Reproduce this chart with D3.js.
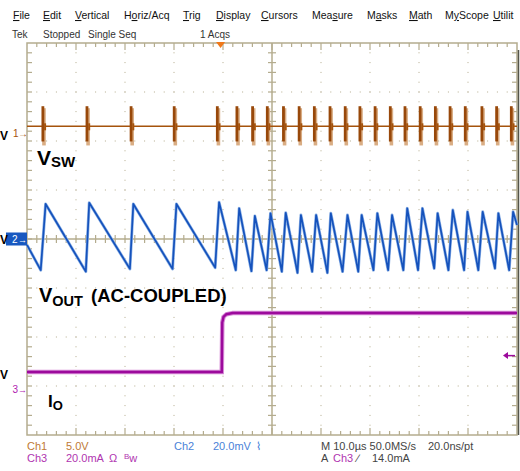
<!DOCTYPE html>
<html>
<head>
<meta charset="utf-8">
<script src="https://cdn.jsdelivr.net/npm/d3@7"></script>
<style>
  body { margin: 0; background: #fff; }
  svg { display: block; font-family: "Liberation Sans", Arial, sans-serif; }
</style>
</head>
<body>
<svg id="scope" width="520" height="471"></svg>
<script>
// Menu bar
const menuItems = ["File", "Edit", "Vertical", "Horiz/Acq", "Trig", "Display", "Cursors", "Measure", "Masks", "Math", "MyScope", "Utilit"];
const menuX = [13, 43, 75, 124, 183, 216, 261, 312, 367, 409, 445, 493];
const menuUnderline = [0, 0, 0, 1, 0, 0, 0, 3, 1, 0, 1, 0];

// Channel settings
const ch1PerDiv = 5, ch1Pos = 2.16;      // V/div, ground marker position (div)
const ch2PerDiv = 20, ch2Pos = 0;        // mV/div
const ch3PerDiv = 20, ch3Pos = -3.08;    // mA/div
const trigLevel = 14.0;                  // mA

// Ch1 (V_SW): switching pulses, us
const ch1SpikeT = [-36.3, -27.3, -18.3, -9.5, -0.7, 3.3, 6.5,
  9.5, 12.8, 16.0, 19.1, 22.3, 25.4, 28.4, 31.5, 34.6, 37.6, 40.7, 43.8, 46.8, 49.9, 53.3, 56.3, 59.3];
const ch1Base = 0.7, ch1High = 2.75, ch1Low = -1.05;   // V

// Ch2 (V_OUT ripple, AC coupled): vertices, us / mV
const ch2T = [-39.5, -36.7, -35.7, -27.5, -26.8, -18.5, -17.8, -9.8, -9.0, -1.1, -0.3, 3.1, 3.8, 6.3, 7.0,
  9.4, 10.2, 12.5, 13.3, 15.7, 16.4, 18.7, 19.5, 21.8, 22.5, 24.9, 25.9, 28.1, 28.8, 31.2, 32.0,
  34.2, 35.0, 37.3, 38.1, 40.3, 41.2, 43.6, 44.3, 46.5, 47.4, 49.7, 50.4, 52.6, 53.5, 56.0, 56.7, 58.9, 59.7, 60.5];
const ch2V = [-2.4, -12.7, 14.3, -13.3, 14.8, -12.2, 14.3, -12.2, 14.3, -11.7, 15.0, -12.7, 12.5, -13.1, 9.4,
  -12.7, 10.5, -13.3, 10.7, -13.8, 9.8, -13.3, 9.8, -13.8, 10.5, -13.3, 9.8, -13.3, 9.8, -12.7, 10.5,
  -12.7, 9.8, -12.7, 12.5, -12.7, 12.5, -12.0, 10.5, -12.7, 11.8, -12.7, 11.1, -12.7, 11.1, -12.0, 10.5, -12.7, 11.1, 5.7];

// Ch3 (I_O load step): vertices, us / mA
const ch3T = [-39.5, 0.25, 0.35, 0.6, 1.2, 2.5, 60.5];
const ch3I = [7.3, 7.3, 27.5, 29.8, 30.9, 31.4, 31.4];

const plotL = 27, plotR = 517, plotT = 43, plotB = 435;
const gridCol = "#b4ac8e";

const svg = d3.select("#scope");

const x = d3.scaleLinear().domain([-39.5, 60.5]).range([plotL, plotR]);
const chScale = (perDiv, pos) => d3.scaleLinear()
  .domain([(-4 - pos) * perDiv, (4 - pos) * perDiv]).range([plotB, plotT]);
const y1 = chScale(ch1PerDiv, ch1Pos);
const y2 = chScale(ch2PerDiv, ch2Pos);
const y3 = chScale(ch3PerDiv, ch3Pos);

// ---- menu + status ----
menuItems.forEach((m, i) => {
  const t = svg.append("text").attr("x", menuX[i]).attr("y", 19)
    .attr("font-size", 10.5).attr("fill", "#111");
  const u = menuUnderline[i];
  if (u > 0) t.append("tspan").text(m.slice(0, u));
  t.append("tspan").attr("text-decoration", "underline").text(m[u]);
  t.append("tspan").text(m.slice(u + 1));
});
[[12, "Tek"], [43, "Stopped"], [88, "Single Seq"], [200, "1 Acqs"]].forEach(s => {
  svg.append("text").attr("x", s[0]).attr("y", 38).attr("font-size", 10).attr("fill", "#333").text(s[1]);
});

// ---- graticule ----
const grid = svg.append("g");
const minor = 49 / 5;
// dotted major lines
for (let i = 1; i < 10; i++) {
  if (i === 5) continue;
  const gx = plotL + i * 49;
  for (let k = 1; k < 40; k++) {
    grid.append("rect").attr("x", gx - 0.5).attr("y", plotT + k * minor - 0.5)
      .attr("width", 1).attr("height", 1).attr("fill", gridCol);
  }
}
for (let j = 1; j < 8; j++) {
  if (j === 4) continue;
  const gy = plotT + j * 49;
  for (let k = 1; k < 50; k++) {
    grid.append("rect").attr("x", plotL + k * minor - 0.5).attr("y", gy - 0.5)
      .attr("width", 1).attr("height", 1).attr("fill", gridCol);
  }
}
// center cross with ticks
const cx = plotL + 5 * 49, cy = plotT + 4 * 49;
grid.append("line").attr("x1", cx).attr("x2", cx).attr("y1", plotT).attr("y2", plotB)
  .attr("stroke", gridCol).attr("stroke-width", 1.5);
grid.append("line").attr("x1", plotL).attr("x2", plotR).attr("y1", cy).attr("y2", cy)
  .attr("stroke", gridCol).attr("stroke-width", 1.5);
for (let k = 1; k < 40; k++) {
  const ty = plotT + k * minor;
  grid.append("line").attr("x1", cx - 4).attr("x2", cx + 4).attr("y1", ty).attr("y2", ty)
    .attr("stroke", gridCol).attr("stroke-width", 1.2);
  grid.append("line").attr("x1", plotL).attr("x2", plotL + 5).attr("y1", ty).attr("y2", ty)
    .attr("stroke", gridCol).attr("stroke-width", 1.2);
  grid.append("line").attr("x1", plotR - 5).attr("x2", plotR).attr("y1", ty).attr("y2", ty)
    .attr("stroke", gridCol).attr("stroke-width", 1.2);
}
for (let k = 1; k < 50; k++) {
  const tx = plotL + k * minor;
  const len = k % 5 === 0 ? 7 : 4;
  grid.append("line").attr("x1", tx).attr("x2", tx).attr("y1", cy - 4).attr("y2", cy + 4)
    .attr("stroke", gridCol).attr("stroke-width", 1.2);
  grid.append("line").attr("x1", tx).attr("x2", tx).attr("y1", plotT).attr("y2", plotT + len)
    .attr("stroke", gridCol).attr("stroke-width", 1.2);
  grid.append("line").attr("x1", tx).attr("x2", tx).attr("y1", plotB - len).attr("y2", plotB)
    .attr("stroke", gridCol).attr("stroke-width", 1.2);
}
grid.append("rect").attr("x", plotL).attr("y", plotT).attr("width", plotR - plotL).attr("height", plotB - plotT)
  .attr("fill", "none").attr("stroke", gridCol).attr("stroke-width", 1.5);
svg.append("line").attr("x1", 518.5).attr("x2", 518.5).attr("y1", 50).attr("y2", plotB)
  .attr("stroke", "#55554a").attr("stroke-width", 1.5);

// ---- Ch3 trace (I_O) ----
const line3 = d3.line().x((d, i) => x(ch3T[i])).y(d => y3(d));
svg.append("path").attr("d", line3(ch3I)).attr("fill", "none")
  .attr("stroke", "#d68ad6").attr("stroke-width", 4.5);
svg.append("path").attr("d", line3(ch3I)).attr("fill", "none")
  .attr("stroke", "#9c0a9c").attr("stroke-width", 2.4);

// ---- Ch2 trace (V_OUT) ----
const line2 = d3.line().x((d, i) => x(ch2T[i])).y(d => y2(d));
svg.append("path").attr("d", line2(ch2V)).attr("fill", "none")
  .attr("stroke", "#8fb3e6").attr("stroke-width", 3).attr("stroke-linejoin", "round");
svg.append("path").attr("d", line2(ch2V)).attr("fill", "none")
  .attr("stroke", "#1552bc").attr("stroke-width", 1.7).attr("stroke-linejoin", "round");

// ---- Ch1 trace (V_SW) ----
const g1 = svg.append("g");
g1.append("line").attr("x1", x(-39.5)).attr("x2", x(60.5)).attr("y1", y1(ch1Base)).attr("y2", y1(ch1Base))
  .attr("stroke", "#a5530c").attr("stroke-width", 1.6);
g1.selectAll(".spk-lt").data(ch1SpikeT).join("rect").attr("class", "spk-lt")
  .attr("x", d => x(d) - 0.5).attr("width", 3.6)
  .attr("y", y1(ch1High) + 2).attr("height", y1(ch1Low) - y1(ch1High))
  .attr("fill", "#d9ad84");
g1.selectAll(".spk").data(ch1SpikeT).join("rect").attr("class", "spk")
  .attr("x", d => x(d) - 1.2).attr("width", 2.8)
  .attr("y", y1(ch1High)).attr("height", y1(ch1Low) - y1(ch1High) - 2)
  .attr("fill", "#98480a");
g1.selectAll(".ring").data(ch1SpikeT).join("rect").attr("class", "ring")
  .attr("x", d => x(d) + 1.4).attr("width", 2)
  .attr("y", y1(ch1Base) - 3).attr("height", 7)
  .attr("fill", "#a5530c");

// ---- trigger markers ----
svg.append("path").attr("d", `M${x(0) - 4.5},42 L${x(0) + 4.5},42 L${x(0)},48 Z`).attr("fill", "#f07818");
const ty3 = y3(trigLevel);
svg.append("path").attr("d", `M503,${ty3} L508,${ty3 - 3.5} L508,${ty3 + 3.5} Z`).attr("fill", "#9c0a9c");
svg.append("line").attr("x1", 506).attr("x2", 515).attr("y1", ty3).attr("y2", ty3)
  .attr("stroke", "#9c0a9c").attr("stroke-width", 1.5);

// ---- channel ground markers ----
svg.append("text").attr("x", 13).attr("y", y1(0) + 3.5).attr("font-size", 10).attr("fill", "#a5530c").text("1");
svg.append("text").attr("x", 18).attr("y", y1(0) + 3.5).attr("font-size", 10).attr("fill", "#a5530c").text("\u2192");
svg.append("rect").attr("x", 6).attr("y", y2(0) - 6.5).attr("width", 21).attr("height", 13).attr("fill", "#1858c0");
svg.append("text").attr("x", 12).attr("y", y2(0) + 4).attr("font-size", 10).attr("fill", "#fff").text("2");
svg.append("text").attr("x", 18).attr("y", y2(0) + 3.5).attr("font-size", 9).attr("fill", "#fff").text("\u2192");
svg.append("text").attr("x", 12.5).attr("y", y3(0) + 3.5).attr("font-size", 10).attr("fill", "#b020b0").text("3");
svg.append("text").attr("x", 18).attr("y", y3(0) + 3.5).attr("font-size", 9).attr("fill", "#b020b0").text("\u2192");

// ---- annotations ----
const ann = svg.append("g").attr("font-weight", "bold").attr("fill", "#000");
[140, 244, 379].forEach(d => {
  ann.append("text").attr("x", 0).attr("y", d).attr("font-size", 12).text("V");
});
const vsw = ann.append("text").attr("x", 37).attr("y", 165).attr("font-size", 21).text("V");
vsw.append("tspan").attr("font-size", 15).attr("dy", 1.5).text("SW");
const vout = ann.append("text").attr("x", 39).attr("y", 302).attr("font-size", 20).text("V");
vout.append("tspan").attr("font-size", 14.5).attr("dy", 4).text("OUT");
vout.append("tspan").attr("x", 91).attr("font-size", 18.5).attr("dy", -4).text("(AC-COUPLED)");
const io = ann.append("text").attr("x", 48).attr("y", 407).attr("font-size", 17).text("I");
io.append("tspan").attr("font-size", 13).attr("dy", 3).text("O");

// ---- bottom readout ----
const rd = svg.append("g").attr("font-size", 11);
const readout = [
  [27, 450, "#c07a34", "Ch1"], [66, 450, "#c07a34", "5.0V"],
  [174, 450, "#4a82d8", "Ch2"], [213, 450, "#4a82d8", "20.0mV"], [256, 450, "#4a82d8", "\u2307"],
  [321, 450, "#444", "M 10.0\u00b5s 50.0MS/s"], [428, 450, "#444", "20.0ns/pt"],
  [27, 462, "#b035b0", "Ch3"], [66, 462, "#b035b0", "20.0mA"], [109, 462, "#b035b0", "\u03a9"],
  [321, 462, "#444", "A"], [333, 462, "#b035b0", "Ch3"], [357, 462, "#444", "\u2215"], [372, 462, "#444", "14.0mA"]
];
readout.forEach(r => {
  rd.append("text").attr("x", r[0]).attr("y", r[1]).attr("fill", r[2]).text(r[3]);
});
const bw = rd.append("text").attr("x", 124).attr("y", 462).attr("fill", "#b035b0");
bw.append("tspan").attr("font-size", 8).attr("dy", -3).text("B");
bw.append("tspan").attr("dy", 3).text("w");
</script>
</body>
</html>
